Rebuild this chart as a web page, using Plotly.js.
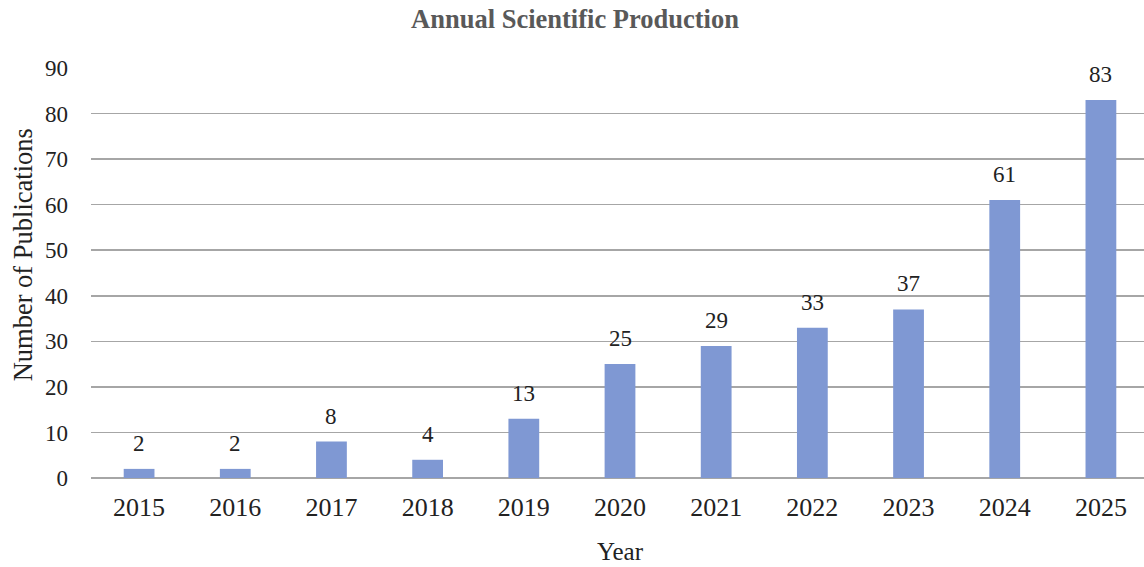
<!DOCTYPE html>
<html>
<head>
<meta charset="utf-8">
<script src="https://cdn.plot.ly/plotly-3.0.1.min.js"></script>
<style>
  html, body { margin: 0; padding: 0; overflow: hidden; background: #fff; }
  #chart { width: 1150px; height: 567px; }
</style>
</head>
<body>
<div id="chart"></div>
<script>
// Publications per year
const years = ['2015', '2016', '2017', '2018', '2019', '2020', '2021', '2022', '2023', '2024', '2025'];
const publications = [2, 2, 8, 4, 13, 25, 29, 33, 37, 61, 83];

const serif = 'Liberation Serif, Times New Roman, serif';

const trace = {
  type: 'bar',
  x: years,
  y: publications,
  marker: { color: '#7F98D3' },
  hoverinfo: 'x+y'
};

// value labels sitting a little above each bar (x given as category index)
const valueLabels = years.map((yr, i) => ({
  x: i,
  y: publications[i],
  xref: 'x',
  yref: 'y',
  text: String(publications[i]),
  showarrow: false,
  yanchor: 'bottom',
  yshift: 11,
  font: { family: serif, size: 23, color: '#222' }
}));

// vertical y-axis title, placed a bit above the plot's midpoint
const yTitle = {
  text: 'Number of Publications',
  xref: 'paper',
  yref: 'paper',
  x: 0,
  y: 0.543,
  xanchor: 'center',
  yanchor: 'middle',
  xshift: -68,
  textangle: -90,
  showarrow: false,
  font: { family: serif, size: 26.5, color: '#222' }
};

const layout = {
  width: 1150,
  height: 567,
  margin: { l: 91, r: 1, t: 68, b: 89 },
  paper_bgcolor: '#fff',
  plot_bgcolor: '#fff',
  bargap: 0.68,
  showlegend: false,
  annotations: valueLabels.concat([yTitle]),
  title: {
    text: '<b>Annual Scientific Production</b>',
    font: { family: serif, size: 26.5, color: '#595959' },
    x: 575 / 1150,
    xanchor: 'center',
    xref: 'container',
    y: 0.984,
    yanchor: 'top',
    yref: 'container'
  },
  xaxis: {
    type: 'category',
    range: [-0.5, years.length - 0.5],
    tickfont: { family: serif, size: 26, color: '#222' },
    ticks: '',
    showline: false,
    showgrid: false,
    ticklabelstandoff: 11,
    title: { text: 'Year', font: { family: serif, size: 25, color: '#222' }, standoff: 21 }
  },
  yaxis: {
    range: [0, 90],
    dtick: 10,
    tick0: 0,
    tickfont: { family: serif, size: 23, color: '#222' },
    ticks: '',
    showline: false,
    gridcolor: '#A6A6A6',
    gridwidth: 1.5,
    zeroline: true,
    zerolinecolor: '#A6A6A6',
    zerolinewidth: 1.5,
    ticklabelstandoff: 22
  }
};

Plotly.newPlot('chart', [trace], layout, { displayModeBar: false, staticPlot: true });
</script>
</body>
</html>
